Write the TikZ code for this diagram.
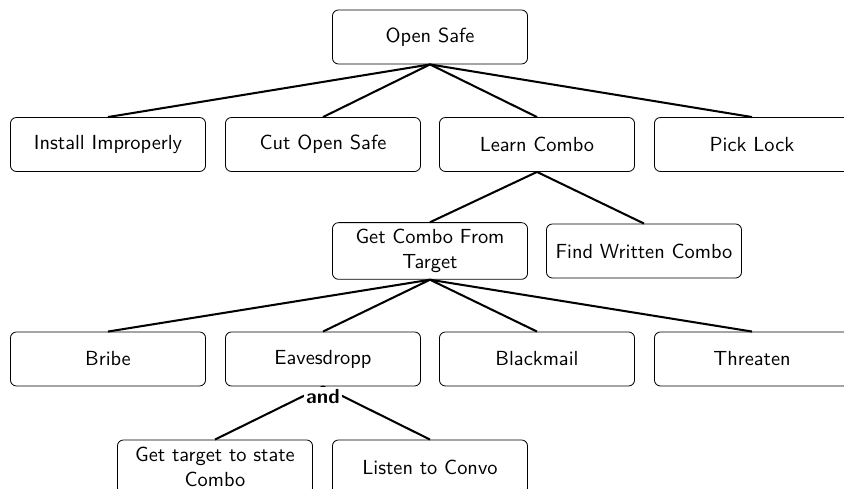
\documentclass[tikz,border=0pt]{standalone}
\begin{document}
\begin{tikzpicture}[x=0.4902pt,y=-0.4902pt,
  box/.style={draw,rounded corners=3pt,font=\sffamily,text width=89pt,align=flush center,
    inner sep=3.33pt,minimum height=26.5pt,line width=0.4pt},
  edge/.style={line width=1pt},
  andlbl/.style={font=\sffamily\bfseries,fill=white,inner sep=1pt,anchor=north}]
\useasboundingbox (0,0) rectangle (844,489);
% level 1
\node[box] (open) at (430,37) {Open Safe};
% level 2
\node[box] (install) at (108,144.5) {Install Improperly};
\node[box] (cut) at (323,144.5) {Cut Open Safe};
\node[box] (learn) at (537,144.5) {Learn Combo};
\node[box] (pick) at (752,144.5) {Pick Lock};
% level 3
\node[box] (getcombo) at (430,251) {Get Combo From Target};
\node[box] (find) at (644,251) {Find Written Combo};
% level 4
\node[box] (bribe) at (108,359) {Bribe};
\node[box] (eaves) at (323,359) {Eavesdropp};
\node[box] (black) at (537,359) {Blackmail};
\node[box] (threat) at (752,359) {Threaten};
% level 5
\node[box] (state) at (215,467) {Get target to state Combo};
\node[box] (listen) at (430,467) {Listen to Convo};
% edges
\foreach \c in {install,cut,learn,pick} \draw[edge] (open.south) -- (\c.north);
\foreach \c in {getcombo,find} \draw[edge] (learn.south) -- (\c.north);
\foreach \c in {bribe,eaves,black,threat} \draw[edge] (getcombo.south) -- (\c.north);
\foreach \c in {state,listen} \draw[edge] (eaves.south) -- (\c.north);
\node[andlbl] (and) at (eaves.south) {and};
\end{tikzpicture}
\end{document}
